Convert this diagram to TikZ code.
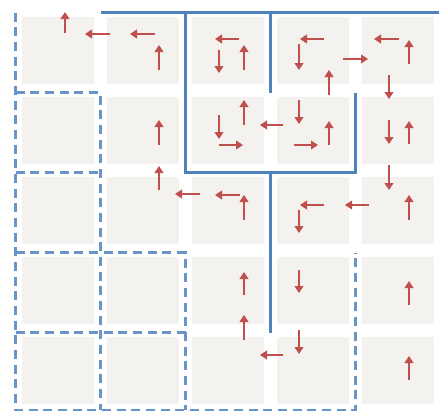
\documentclass[tikz,border=0pt]{standalone}
\usepackage{tikz}
\usetikzlibrary{arrows.meta}
\definecolor{gridblue}{RGB}{79,129,189}
\definecolor{arrred}{RGB}{192,80,77}
\definecolor{cellgray}{RGB}{243,242,238}

\begin{document}
\begin{tikzpicture}[x=0.03cm, y=-0.03cm,
    cell/.style={fill=cellgray, draw=none, minimum width=2.16cm, minimum height=2.01cm, inner sep=0pt},
    wall/.style={draw=gridblue, line width=2.5pt},
    dwall/.style={draw=gridblue!85, line width=2.5pt, dash pattern=on 0.27cm off 0.17cm},
    arr/.style={draw=arrred, line width=2.2pt, -{Triangle[length=0.21cm, width=0.26cm]}}]
  \useasboundingbox (0,0) rectangle (439,412);

  %% Cells
  \foreach \i in {0,...,4} {
    \foreach \j in {0,...,4} {
      \node[cell] (c-\i-\j) at (58+85*\j, 50.5+80*\i) {};
    }
  }

  %% Grid corners
  \foreach \i in {0,...,4} {
    \foreach \j in {0,...,5} {
      \coordinate (g-\i-\j) at (15.5+85*\j, 12.5+80*\i);
    }
  }
  \foreach \j in {0,...,5} {
    \coordinate (g-5-\j) at (15.5+85*\j, 410);
  }
  \coordinate (g-0-r) at (440,12.5);

  %% Dashed walls
  \draw[dwall] (g-0-0) -- (g-5-0) -- (g-5-4) -- (g-3-4);
  \draw[dwall] (g-1-0) -- (g-1-1) -- (g-5-1);
  \draw[dwall] (g-2-0) -- (g-2-1);
  \draw[dwall] (g-3-0) -- (g-3-2) -- (g-5-2);
  \draw[dwall] (g-4-0) -- (g-4-2);

  %% Solid walls
  \draw[wall] (g-0-1) -- (g-0-r);
  \draw[wall] (g-0-2) -- (g-2-2) -- (g-2-4) -- (g-1-4);
  \draw[wall] (g-0-3) -- (g-1-3);
  \draw[wall] (g-2-3) -- (g-4-3);

  %% Arrows, row 0
  \draw[arr] (65,33) -- (65,12);
  \draw[arr] (110,34) -- (85,34);
  \draw[arr] (155,34) -- (130,34);
  \draw[arr] (159,70) -- (159,45);
  \draw[arr] (239,39) -- (215,39);
  \draw[arr] (219,50) -- (219,73);
  \draw[arr] (244,70) -- (244,45);
  \draw[arr] (324,39) -- (300,39);
  \draw[arr] (299,44) -- (299,70);
  \draw[arr] (329,95) -- (329,70);
  \draw[arr] (343,59) -- (368,59);
  \draw[arr] (399,39) -- (374,39);
  \draw[arr] (409,64) -- (409,40);
  \draw[arr] (389,75) -- (389,99);

  %% Arrows, row 1
  \draw[arr] (159,145) -- (159,120);
  \draw[arr] (159,190) -- (159,166);
  \draw[arr] (219,115) -- (219,139);
  \draw[arr] (219,145) -- (243,145);
  \draw[arr] (244,125) -- (244,100);
  \draw[arr] (283,125) -- (260,125);
  \draw[arr] (299,100) -- (299,124);
  \draw[arr] (294,145) -- (318,145);
  \draw[arr] (329,145) -- (329,121);
  \draw[arr] (389,120) -- (389,144);
  \draw[arr] (409,144) -- (409,121);
  \draw[arr] (389,165) -- (389,190);

  %% Arrows, row 2
  \draw[arr] (200,194) -- (175,194);
  \draw[arr] (240,195) -- (215,195);
  \draw[arr] (244,220) -- (244,195);
  \draw[arr] (324,205) -- (300,205);
  \draw[arr] (299,210) -- (299,233);
  \draw[arr] (369,205) -- (345,205);
  \draw[arr] (409,220) -- (409,195);

  %% Arrows, rows 3 and 4
  \draw[arr] (244,295) -- (244,272);
  \draw[arr] (299,270) -- (299,293);
  \draw[arr] (409,305) -- (409,281);
  \draw[arr] (244,340) -- (244,315);
  \draw[arr] (299,330) -- (299,354);
  \draw[arr] (283,355) -- (260,355);
  \draw[arr] (409,380) -- (409,356);
\end{tikzpicture}
\end{document}
